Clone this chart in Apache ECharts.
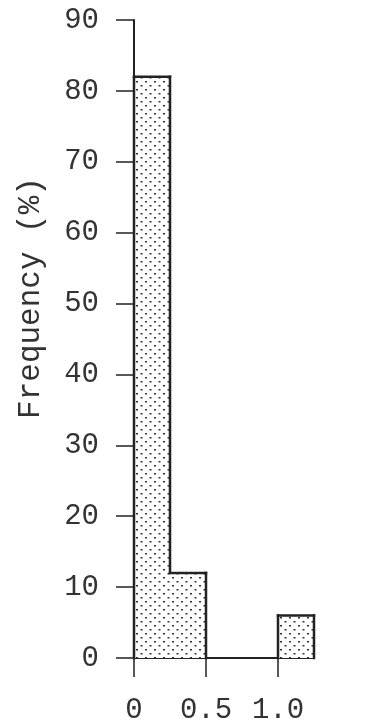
<!DOCTYPE html>
<html><head><meta charset="utf-8">
<script src="https://cdn.jsdelivr.net/npm/echarts@6/dist/echarts.min.js"></script>
<style>html,body{margin:0;padding:0;background:#fff}#c{width:368px;height:725px}</style>
</head><body><div id="c"></div>
<script>
// Data
var binStart = [0, 0.25, 0.5, 0.75, 1.0];
var binEnd   = [0.25, 0.5, 0.75, 1.0, 1.25];
var frequency = [82, 12, 0, 0, 6];
var xTickValues = [0, 0.5, 1.0];
var xTickLabels = ['0', '0.5', '1.0'];
var yLabel = 'Frequency (%)';

// dotted pattern
var pc = document.createElement('canvas');
pc.width = 9; pc.height = 8;
var g = pc.getContext('2d');
g.fillStyle = '#fff'; g.fillRect(0, 0, 9, 8);
g.fillStyle = '#333';
g.fillRect(1, 1, 2, 1.5);
g.fillRect(5.5, 5, 2, 1.5);

var data = frequency.map(function (f, i) {
  var prev = i > 0 ? frequency[i - 1] : 0;
  var next = i < frequency.length - 1 ? frequency[i + 1] : 0;
  return [binStart[i], binEnd[i], f, prev, next];
});

var font = '"Liberation Mono", "Courier New", monospace';
var chart = echarts.init(document.getElementById('c'));
chart.setOption({
  animation: false,
  grid: { left: 134, right: 54, top: 20, bottom: 65 },
  xAxis: {
    type: 'value', min: 0, max: 1.25,
    splitLine: { show: false },
    axisLine: { lineStyle: { color: '#222', width: 2 } },
    axisTick: { show: true, inside: false, length: 19, lineStyle: { color: '#222', width: 1.5 }, customValues: xTickValues },
    axisLabel: {
      customValues: xTickValues,
      formatter: function (v) { var i = xTickValues.indexOf(v); return i >= 0 ? xTickLabels[i] : ''; },
      color: '#333', fontFamily: font, fontSize: 29, margin: 38
    }
  },
  yAxis: {
    type: 'value', min: 0, max: 90, interval: 10,
    name: yLabel, nameLocation: 'middle', nameGap: 88,
    nameTextStyle: { color: '#333', fontFamily: font, fontSize: 31, padding: [0, 0, 0, 82] },
    splitLine: { show: false },
    axisLine: { show: true, lineStyle: { color: '#222', width: 2 } },
    axisTick: { show: true, length: 18, lineStyle: { color: '#222', width: 1.5 } },
    axisLabel: { color: '#333', fontFamily: font, fontSize: 29, margin: 35 }
  },
  series: [{
    type: 'custom',
    data: data,
    encode: { x: [0, 1], y: 2 },
    z: 1,
    renderItem: function (params, api) {
      var v = api.value(2);
      if (!v) return null;
      var prev = api.value(3), next = api.value(4);
      var p0 = api.coord([api.value(0), 0]);
      var p1 = api.coord([api.value(1), v]);
      var yPrev = api.coord([api.value(0), prev])[1];
      var yNext = api.coord([api.value(1), next])[1];
      var ls = { stroke: '#222', lineWidth: 2.5, lineCap: 'square' };
      var children = [{
        type: 'rect',
        shape: { x: p0[0], y: p1[1], width: p1[0] - p0[0], height: p0[1] - p1[1] },
        style: { fill: { image: pc, repetition: 'repeat' } }
      }, {
        type: 'line', shape: { x1: p0[0], y1: p1[1], x2: p1[0], y2: p1[1] }, style: ls
      }];
      if (prev < v) children.push({ type: 'line', shape: { x1: p0[0], y1: p1[1], x2: p0[0], y2: yPrev }, style: ls });
      if (next < v) children.push({ type: 'line', shape: { x1: p1[0], y1: p1[1], x2: p1[0], y2: yNext }, style: ls });
      return { type: 'group', children: children };
    }
  }]
});
</script></body></html>
